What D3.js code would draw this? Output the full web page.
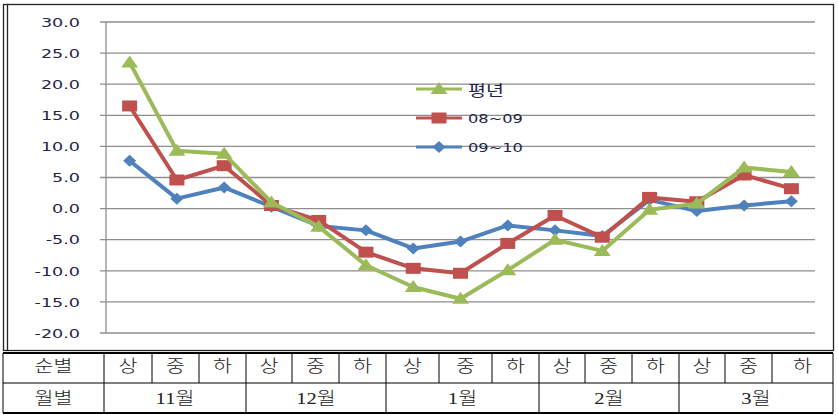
<!DOCTYPE html>
<html><head><meta charset="utf-8">
<script src="https://cdn.jsdelivr.net/npm/d3@7"></script>
<style>html,body{margin:0;padding:0;background:#fff;}svg{display:block;}</style>
</head><body>
<script>
// ---- data ----
const periods = ["상","중","하","상","중","하","상","중","하","상","중","하","상","중","하"];
const months = ["11월","12월","1월","2월","3월"];
const yTicks = [-20,-15,-10,-5,0,5,10,15,20,25,30];
const seriesNames = ["평년","08~09","09~10"];
const normalVals = [23.5, 9.3, 8.8, 1.0, -2.9, -9.1, -12.6, -14.5, -9.9, -5.0, -6.8, -0.2, 0.8, 6.6, 5.9];
const y0809Vals  = [16.5, 4.6, 6.9, 0.5, -1.9, -7.0, -9.6, -10.4, -5.6, -1.1, -4.6, 1.8, 1.1, 5.4, 3.2];
const y0910Vals  = [7.7, 1.6, 3.4, 0.3, -2.8, -3.5, -6.4, -5.3, -2.7, -3.5, -4.4, 1.4, -0.4, 0.5, 1.2];
const rowLabels = ["순별","월별"];

// ---- layout ----
const W = 838, H = 415;
const svg = d3.select("body").append("svg").attr("width", W).attr("height", H);
const SX = 1.35; // horizontal stretch of the original raster

const x = d3.scalePoint().domain(d3.range(periods.length)).range([106, 815]).padding(0.5);
const y = d3.scaleLinear().domain([-20, 30]).range([333, 22]);

// chart frame
svg.append("rect").attr("x", 3.5).attr("y", 4.5).attr("width", 830).attr("height", 346)
  .attr("fill", "none").attr("stroke", "#222").attr("stroke-width", 1.3);
svg.append("line").attr("x1", 7.5).attr("x2", 7.5).attr("y1", 4.5).attr("y2", 350.5)
  .attr("stroke", "#222").attr("stroke-width", 1.3);

// gridlines
svg.append("g").selectAll("line").data(yTicks).join("line")
  .attr("x1", 100).attr("x2", 815)
  .attr("y1", d => y(d)).attr("y2", d => y(d))
  .attr("stroke", "#8e8e8e").attr("stroke-width", 1.3);
// y axis line
svg.append("line").attr("x1", 106).attr("x2", 106).attr("y1", y(30)).attr("y2", y(-20))
  .attr("stroke", "#8e8e8e").attr("stroke-width", 1.3);

function stretchText(parent, tx, ty, str, opts) {
  const g = parent.append("g").attr("transform", `translate(${tx},${ty}) scale(${opts.sx || SX},1)`);
  return g.append("text").text(str)
    .attr("text-anchor", opts.anchor || "start")
    .attr("dominant-baseline", "central")
    .attr("font-family", opts.family)
    .attr("font-size", opts.size)
    .attr("font-weight", opts.weight || 400)
    .attr("fill", opts.fill || "#000");
}

// y tick labels
yTicks.forEach(t => {
  stretchText(svg, 80, y(t) + 0.5, t.toFixed(1),
    {anchor: "end", family: "'DejaVu Sans', Verdana, sans-serif", size: 13, fill: "#23234a"});
});

// series
const colors = ["#9BBB59", "#C0504D", "#4F81BD"];
const allVals = [normalVals, y0809Vals, y0910Vals];
const markers = [
  "M0,-7 L8.5,5 L-8.5,5 Z",      // triangle
  "M-7.5,-5.5 H7.5 V5.5 H-7.5 Z", // square
  "M0,-6 L6.5,0 L0,6 L-6.5,0 Z"   // diamond
];
const line = d3.line().x((d, i) => x(i)).y(d => y(d));
[2, 1, 0].forEach(k => {
  const g = svg.append("g");
  g.append("path").attr("d", line(allVals[k])).attr("fill", "none")
    .attr("stroke", colors[k]).attr("stroke-width", 4).attr("stroke-linejoin", "round");
  g.selectAll("path.m").data(allVals[k]).join("path").attr("class", "m")
    .attr("d", markers[k])
    .attr("transform", (d, i) => `translate(${x(i)},${y(d)})`)
    .attr("fill", colors[k]);
});

// legend
const legY = [89, 118, 147];
seriesNames.forEach((n, k) => {
  svg.append("line").attr("x1", 416).attr("x2", 462).attr("y1", legY[k]).attr("y2", legY[k])
    .attr("stroke", colors[k]).attr("stroke-width", 3);
  svg.append("path").attr("d", markers[k]).attr("transform", `translate(439,${legY[k]})`).attr("fill", colors[k]);
  const isKo = /[\uac00-\ud7a3]/.test(n);
  stretchText(svg, 468, legY[k] + 0.5, n,
    {family: isKo ? "'Noto Sans CJK KR', sans-serif" : "'DejaVu Sans', sans-serif",
     size: isKo ? 15 : 12.5, fill: "#23234a", sx: 1.3});
});

// table
const colB = [3, 104, 152, 199, 246, 292, 339, 386, 439, 492, 539, 585, 632, 679, 725, 772, 833];
const monthB = [104, 246, 386, 539, 679, 833];
const tY = [353, 383, 413];
const tg = svg.append("g");
tg.append("line").attr("x1", 3).attr("x2", 833).attr("y1", tY[0]).attr("y2", tY[0]).attr("stroke", "#000").attr("stroke-width", 1.8);
tg.append("line").attr("x1", 3).attr("x2", 833).attr("y1", tY[1]).attr("y2", tY[1]).attr("stroke", "#000").attr("stroke-width", 1);
tg.append("line").attr("x1", 3).attr("x2", 833).attr("y1", tY[2]).attr("y2", tY[2]).attr("stroke", "#000").attr("stroke-width", 1.8);
colB.forEach(b => tg.append("line").attr("x1", b).attr("x2", b).attr("y1", tY[0]).attr("y2", tY[1]).attr("stroke", "#000").attr("stroke-width", 1));
[3].concat(monthB).forEach(b => tg.append("line").attr("x1", b).attr("x2", b).attr("y1", tY[1]).attr("y2", tY[2]).attr("stroke", "#000").attr("stroke-width", 1));

const tFont = "'Liberation Serif', 'Noto Sans CJK KR', serif";
const tOpts = {anchor: "middle", family: tFont, size: 16.5, sx: 1.25, fill: "#222", weight: 300};
stretchText(tg, (colB[0] + colB[1]) / 2, 366, rowLabels[0], tOpts);
stretchText(tg, (colB[0] + colB[1]) / 2, 398, rowLabels[1], tOpts);
periods.forEach((p, i) => {
  stretchText(tg, (colB[i + 1] + colB[i + 2]) / 2, 366, p, tOpts);
});
months.forEach((m, i) => {
  stretchText(tg, (monthB[i] + monthB[i + 1]) / 2, 398, m, tOpts);
});
</script>
</body></html>
